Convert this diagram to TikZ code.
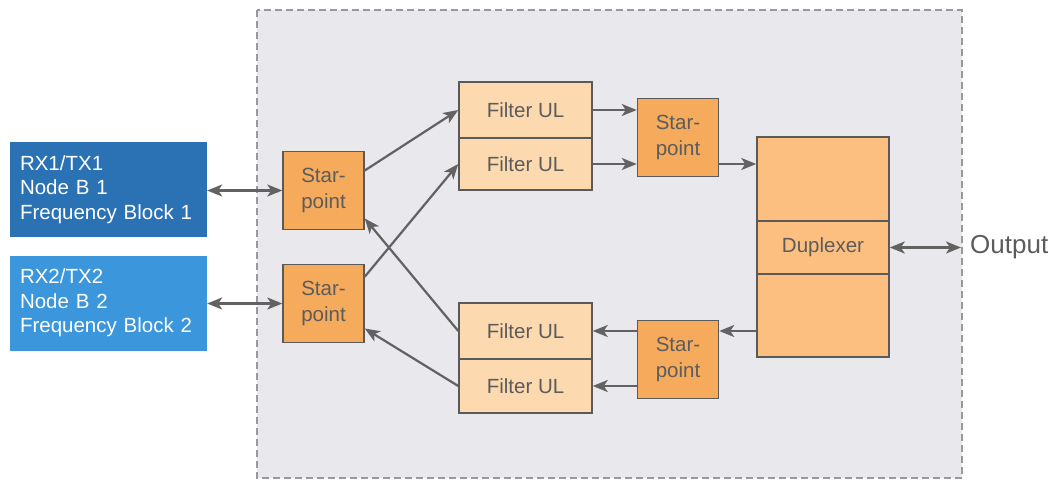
\documentclass[tikz,border=0pt]{standalone}
\usepackage{fontspec}
\setmainfont{Liberation Sans}
\usepackage{tikz}
\usepackage{xcolor}
\usetikzlibrary{positioning,arrows.meta}
\definecolor{bgray}{HTML}{E8E8ED}
\definecolor{edgec}{HTML}{5A5A5A}
\definecolor{txtc}{HTML}{5C5C5C}
\definecolor{arrc}{HTML}{626262}
\definecolor{starc}{HTML}{F5AA5C}
\definecolor{filtc}{HTML}{FCD9AE}
\definecolor{dupc}{HTML}{FDBF80}
\definecolor{nodeba}{HTML}{2B72B5}
\definecolor{nodebb}{HTML}{3B96DB}
\newcommand{\bigtxt}{\fontsize{20.5}{24.5}\selectfont}
\newcommand{\startxt}{\fontsize{20.5}{26.5}\selectfont}
\tikzstyle{nodeb} = [rectangle, minimum height=95pt, text width=177pt, inner sep=10pt, align=left, text=white, font=\bigtxt]
\tikzstyle{starpt} = [draw=edgec, line width=1.5pt, fill=starc, minimum width=81pt, minimum height=78pt, align=center, text=txtc, font=\startxt]
\tikzstyle{filt} = [draw=edgec, line width=1.5pt, fill=filtc, minimum width=133pt, align=center, text=txtc, font=\bigtxt]
\tikzstyle{dup} = [draw=edgec, line width=1.5pt, fill=dupc, minimum width=132pt, align=center, text=txtc, font=\bigtxt]
\tikzstyle{conn} = [arrc, line width=2.2pt, -{Stealth[length=15pt,width=12pt,inset=4pt]}]
\tikzstyle{conn2} = [arrc, line width=2.2pt, {Stealth[length=15pt,width=12pt,inset=4pt]}-{Stealth[length=15pt,width=12pt,inset=4pt]}]
\begin{document}
\begin{tikzpicture}[x=1pt,y=-1pt]
			\useasboundingbox (0,0) rectangle (1049,484);
			\draw[fill=bgray, draw=gray!80, dashed, line width=1.2pt, dash pattern=on 7pt off 4pt] (257,10) rectangle (962,478);
			\node[nodeb, fill=nodeba] (nb1) at (108.5,189.5) {RX1/TX1\\Node B 1\\Frequency Block 1};
			\node[nodeb, fill=nodebb] (nb2) at (108.5,303) {RX2/TX2\\Node B 2\\Frequency Block 2};
			\node[starpt] (sp1) at (323.5,190.5) {Star-\\point};
			\node[starpt] (sp2) at (323.5,303.5) {Star-\\point};
			\node[filt, minimum height=56pt] (fu1) at (525.5,110) {Filter UL};
			\node[filt, minimum height=52pt] (fu2) at (525.5,164) {Filter UL};
			\node[filt, minimum height=56pt] (fl1) at (525.5,331) {Filter UL};
			\node[filt, minimum height=54pt] (fl2) at (525.5,386) {Filter UL};
			\node[starpt] (sp3) at (678,137.5) {Star-\\point};
			\node[starpt] (sp4) at (678,359.5) {Star-\\point};
			\node[dup, minimum height=84pt] (dupt) at (823,179) {};
			\node[dup, minimum height=53pt] (dupm) at (823,247.5) {Duplexer};
			\node[dup, minimum height=83pt] (dupb) at (823,315.5) {};
			\node[anchor=west, inner sep=0pt, text=txtc, font=\fontsize{26}{30}\selectfont] (out) at (970,247.5) {Output};
			\draw[conn2] (nb1.east |- sp1.west) -- (sp1.west);
			\draw[conn2] (nb2.east |- sp2.west) -- (sp2.west);
			\draw[conn] ([yshift=20pt]sp1.east) -- (fu1.west);
			\draw[conn] ([yshift=-13pt]sp2.north east) -- (fu2.west);
			\draw[conn] (fl1.west) -- ([yshift=-28pt]sp1.east);
			\draw[conn] (fl2.west) -- ([yshift=-25pt]sp2.east);
			\draw[conn] (fu1.east) -- (fu1.east -| sp3.west);
			\draw[conn] (fu2.east) -- (fu2.east -| sp3.west);
			\draw[conn] (fu2.east -| sp3.east) -- (fu2.east -| dupt.west);
			\draw[conn] (fl1.east -| dupb.west) -- (fl1.east -| sp4.east);
			\draw[conn] (fl1.east -| sp4.west) -- (fl1.east);
			\draw[conn] (fl2.east -| sp4.west) -- (fl2.east);
			\draw[conn2] (dupm.east) -- ([xshift=-9pt]out.west);
		\end{tikzpicture}
\end{document}
